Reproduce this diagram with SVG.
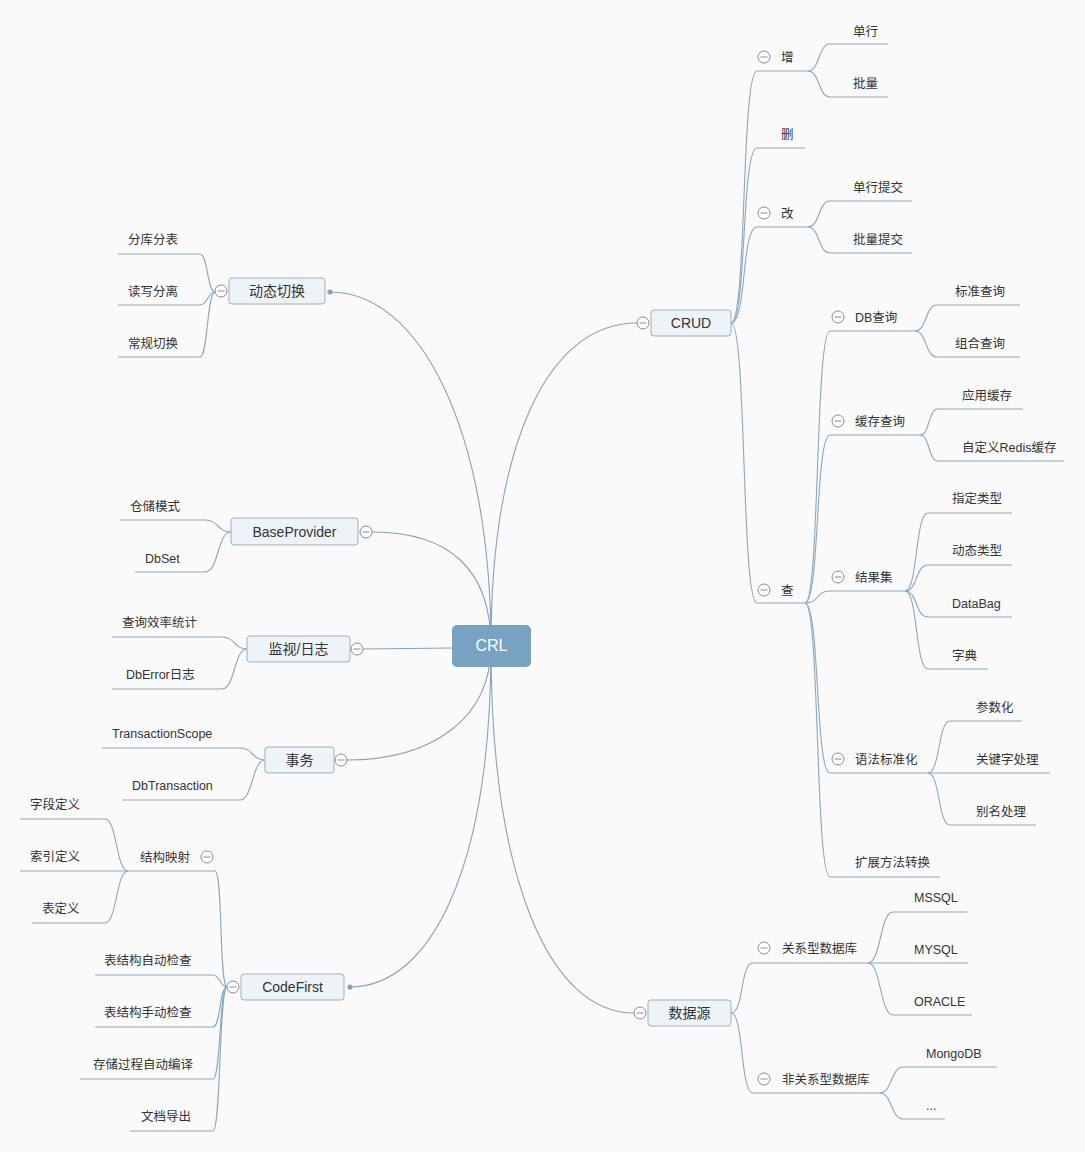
<svg xmlns="http://www.w3.org/2000/svg" width="1085" height="1152" viewBox="0 0 1085 1152">
<defs>
<style>
.bg{fill:#fafafa}
.c{fill:none;stroke:#8aa7bf;stroke-width:1.1}
.m{fill:none;stroke:#84a3bc;stroke-width:1.1}
.t{font-family:"Liberation Sans","Noto Sans CJK SC",sans-serif;font-size:12.5px;fill:#333;dominant-baseline:central}
.b{fill:#eef3f8;stroke:#9ab1c5;stroke-width:1}
.bt{font-family:"Liberation Sans","Noto Sans CJK SC",sans-serif;font-size:14px;fill:#333;text-anchor:middle;dominant-baseline:central}
.root{fill:#77a2c2}
.rt{font-family:"Liberation Sans",sans-serif;font-size:16px;fill:#fff;text-anchor:middle;dominant-baseline:central}
.k{fill:#fff;stroke:#8c8c8c;stroke-width:1}
.kl{stroke:#8c8c8c;stroke-width:1}
.dot{fill:#7fa3c0}
</style>
<g id="col">
<circle class="k" cx="0" cy="0" r="6"/>
<line class="kl" x1="-3.5" y1="0" x2="3.5" y2="0"/>
</g>
</defs>
<rect class="bg" x="0" y="0" width="1085" height="1152"/>

<g id="connectors">
<path class="m" d="M491,646 C491,450 545,323 637,323"/>
<path class="m" d="M491,646 C491,430 420,292 330,292"/>
<path class="m" d="M491,646 C491,570 450,532 372,532"/>
<path class="m" d="M452,648 L363,649"/>
<path class="m" d="M491,646 C491,720 430,760 347,760"/>
<path class="m" d="M491,646 C491,870 430,987 350,987"/>
<path class="m" d="M491,646 C491,880 550,1013 634,1013"/>
<path class="c" d="M731,323 C747,323 741,71 757,71 H808"/>
<path class="c" d="M731,323 C747,323 741,148 757,148 H805"/>
<path class="c" d="M731,323 C747,323 741,227 757,227 H808"/>
<path class="c" d="M731,323 C747,323 741,603 757,603 H805"/>
<path class="c" d="M808,71 C820,71 818,44 830,44 H888"/>
<path class="c" d="M808,71 C820,71 818,97 830,97 H888"/>
<path class="c" d="M808,227 C820,227 818,201 830,201 H912"/>
<path class="c" d="M808,227 C820,227 818,253 830,253 H912"/>
<path class="c" d="M805,603 C820,603 815,331 830,331 H915"/>
<path class="c" d="M805,603 C820,603 815,435 830,435 H920"/>
<path class="c" d="M805,603 C820,603 815,591 830,591 H905"/>
<path class="c" d="M805,603 C820,603 815,773 830,773 H928"/>
<path class="c" d="M805,603 C820,603 815,877 830,877 H940"/>
<path class="c" d="M915,331 C927,331 925,305 937,305 H1020"/>
<path class="c" d="M915,331 C927,331 925,357 937,357 H1020"/>
<path class="c" d="M920,435 C930,435 928,409 938,409 H1023"/>
<path class="c" d="M920,435 C930,435 928,461 938,461 H1064"/>
<path class="c" d="M905,591 C918,591 915,513 928,513 H1012"/>
<path class="c" d="M905,591 C918,591 915,565 928,565 H1012"/>
<path class="c" d="M905,591 C918,591 915,617 928,617 H1012"/>
<path class="c" d="M905,591 C918,591 915,669 928,669 H988"/>
<path class="c" d="M928,773 C940,773 938,721 950,721 H1022"/>
<path class="c" d="M928,773 H1050"/>
<path class="c" d="M928,773 C940,773 938,825 950,825 H1036"/>
<path class="c" d="M731,1013 C744,1013 740,963 753,963 H868"/>
<path class="c" d="M731,1013 C744,1013 740,1093 753,1093 H880"/>
<path class="c" d="M868,963 C881,963 880,912 893,912 H967"/>
<path class="c" d="M868,963 H968"/>
<path class="c" d="M868,963 C881,963 880,1015 893,1015 H972"/>
<path class="c" d="M880,1093 C892,1093 891,1067 903,1067 H997"/>
<path class="c" d="M880,1093 C892,1093 891,1119 903,1119 H945"/>
<path class="c" d="M215,292 C207,292 208,254 200,254 H118"/>
<path class="c" d="M215,292 C207,292 208,305 200,305 H118"/>
<path class="c" d="M215,292 C207,292 208,357 200,357 H118"/>
<path class="c" d="M231,532 C217,532 219,520 205,520 H120"/>
<path class="c" d="M231,532 C217,532 219,572 205,572 H135"/>
<path class="c" d="M247,649 C234,649 235,637 222,637 H112"/>
<path class="c" d="M247,649 C234,649 235,689 222,689 H112"/>
<path class="c" d="M265,760 C252,760 253,748 240,748 H102"/>
<path class="c" d="M265,760 C252,760 253,800 240,800 H122"/>
<path class="c" d="M227,987 C219,987 223,871 215,871 H128"/>
<path class="c" d="M227,987 C220,987 220,975 213,975 H95"/>
<path class="c" d="M227,987 C219,987 221,1027 213,1027 H95"/>
<path class="c" d="M227,987 C219,987 221,1079 213,1079 H80"/>
<path class="c" d="M227,987 C219,987 221,1131 213,1131 H130"/>
<path class="c" d="M128,871 C116,871 117,819 105,819 H20"/>
<path class="c" d="M128,871 H20"/>
<path class="c" d="M128,871 C116,871 117,923 105,923 H32"/>
<circle class="dot" cx="330" cy="292" r="2.6"/>
<circle class="dot" cx="350" cy="987" r="2.6"/>
</g>

<g id="n-crl"><rect class="root" x="452" y="625" width="79" height="42" rx="5"/><text class="rt" x="491.5" y="645">CRL</text></g>

<g id="n-crud"><rect class="b" x="651" y="310" width="80" height="26" rx="3"/><text class="bt" x="691" y="323">CRUD</text><use href="#col" x="643" y="323"/></g>
<g id="n-datasource"><rect class="b" x="648" y="1000" width="83" height="26" rx="3"/><text class="bt" x="689.5" y="1013">数据源</text><use href="#col" x="640" y="1013"/></g>
<g id="n-switch"><rect class="b" x="229" y="278" width="96" height="26" rx="3"/><text class="bt" x="277" y="291">动态切换</text><use href="#col" x="221" y="291"/></g>
<g id="n-baseprovider"><rect class="b" x="231" y="518" width="127" height="27" rx="3"/><text class="bt" x="294.5" y="531.5">BaseProvider</text><use href="#col" x="366" y="532"/></g>
<g id="n-monitor"><rect class="b" x="247" y="636" width="103" height="26" rx="3"/><text class="bt" x="298.5" y="649">监视/日志</text><use href="#col" x="357" y="649"/></g>
<g id="n-tx"><rect class="b" x="265" y="747" width="69" height="26" rx="3"/><text class="bt" x="299.5" y="760">事务</text><use href="#col" x="341" y="760"/></g>
<g id="n-codefirst"><rect class="b" x="241" y="974" width="103" height="26" rx="3"/><text class="bt" x="292.5" y="987">CodeFirst</text><use href="#col" x="233" y="987"/></g>

<g id="n-add"><use href="#col" x="764" y="57"/><text class="t" x="781" y="57.5">增</text></g>
<g id="n-single"><text class="t" x="853" y="31.5">单行</text></g>
<g id="n-batch"><text class="t" x="853" y="83.5">批量</text></g>
<g id="n-del"><text class="t" x="781" y="134.5">删</text></g>
<g id="n-upd"><use href="#col" x="764" y="213"/><text class="t" x="781" y="213.5">改</text></g>
<g id="n-single-commit"><text class="t" x="853" y="187.5">单行提交</text></g>
<g id="n-batch-commit"><text class="t" x="853" y="239.5">批量提交</text></g>
<g id="n-query"><use href="#col" x="764" y="590"/><text class="t" x="781" y="590.5">查</text></g>
<g id="n-dbq"><use href="#col" x="838" y="317"/><text class="t" x="855" y="317.5">DB查询</text></g>
<g id="n-stdq"><text class="t" x="955" y="291.5">标准查询</text></g>
<g id="n-combq"><text class="t" x="955" y="343.5">组合查询</text></g>
<g id="n-cacheq"><use href="#col" x="838" y="421"/><text class="t" x="855" y="421.5">缓存查询</text></g>
<g id="n-appcache"><text class="t" x="962" y="395.5">应用缓存</text></g>
<g id="n-redis"><text class="t" x="962" y="447.5">自定义Redis缓存</text></g>
<g id="n-result"><use href="#col" x="838" y="577"/><text class="t" x="855" y="577.5">结果集</text></g>
<g id="n-typed"><text class="t" x="952" y="498.5">指定类型</text></g>
<g id="n-dyn"><text class="t" x="952" y="550.5">动态类型</text></g>
<g id="n-bag"><text class="t" x="952" y="603.5">DataBag</text></g>
<g id="n-dict"><text class="t" x="952" y="655.5">字典</text></g>
<g id="n-syntax"><use href="#col" x="838" y="759"/><text class="t" x="855" y="759.5">语法标准化</text></g>
<g id="n-param"><text class="t" x="976" y="707.5">参数化</text></g>
<g id="n-keyword"><text class="t" x="976" y="759.5">关键字处理</text></g>
<g id="n-alias"><text class="t" x="976" y="811.5">别名处理</text></g>
<g id="n-ext"><text class="t" x="855" y="862.5">扩展方法转换</text></g>

<g id="n-rdb"><use href="#col" x="764" y="948"/><text class="t" x="782" y="948.5">关系型数据库</text></g>
<g id="n-mssql"><text class="t" x="914" y="897.5">MSSQL</text></g>
<g id="n-mysql"><text class="t" x="914" y="949.5">MYSQL</text></g>
<g id="n-oracle"><text class="t" x="914" y="1001.5">ORACLE</text></g>
<g id="n-nosql"><use href="#col" x="764" y="1079"/><text class="t" x="782" y="1079.5">非关系型数据库</text></g>
<g id="n-mongo"><text class="t" x="926" y="1053.5">MongoDB</text></g>
<g id="n-etc"><text class="t" x="926" y="1105.5">...</text></g>

<g id="n-shard"><text class="t" x="128" y="239.5">分库分表</text></g>
<g id="n-rw"><text class="t" x="128" y="291.5">读写分离</text></g>
<g id="n-normal"><text class="t" x="128" y="343.5">常规切换</text></g>
<g id="n-repo"><text class="t" x="130" y="506.5">仓储模式</text></g>
<g id="n-dbset"><text class="t" x="145" y="558.5">DbSet</text></g>
<g id="n-stat"><text class="t" x="122" y="622.5">查询效率统计</text></g>
<g id="n-errlog"><text class="t" x="126" y="674.5">DbError日志</text></g>
<g id="n-tscope"><text class="t" x="112" y="733.5">TransactionScope</text></g>
<g id="n-dbtx"><text class="t" x="132" y="785.5">DbTransaction</text></g>
<g id="n-map"><text class="t" x="140" y="857.5">结构映射</text><use href="#col" x="207" y="857"/></g>
<g id="n-field"><text class="t" x="30" y="804.5">字段定义</text></g>
<g id="n-index"><text class="t" x="30" y="856.5">索引定义</text></g>
<g id="n-table"><text class="t" x="42" y="908.5">表定义</text></g>
<g id="n-autocheck"><text class="t" x="104" y="960.5">表结构自动检查</text></g>
<g id="n-mancheck"><text class="t" x="104" y="1012.5">表结构手动检查</text></g>
<g id="n-proc"><text class="t" x="93" y="1064.5">存储过程自动编译</text></g>
<g id="n-doc"><text class="t" x="141" y="1116.5">文档导出</text></g>
</svg>
